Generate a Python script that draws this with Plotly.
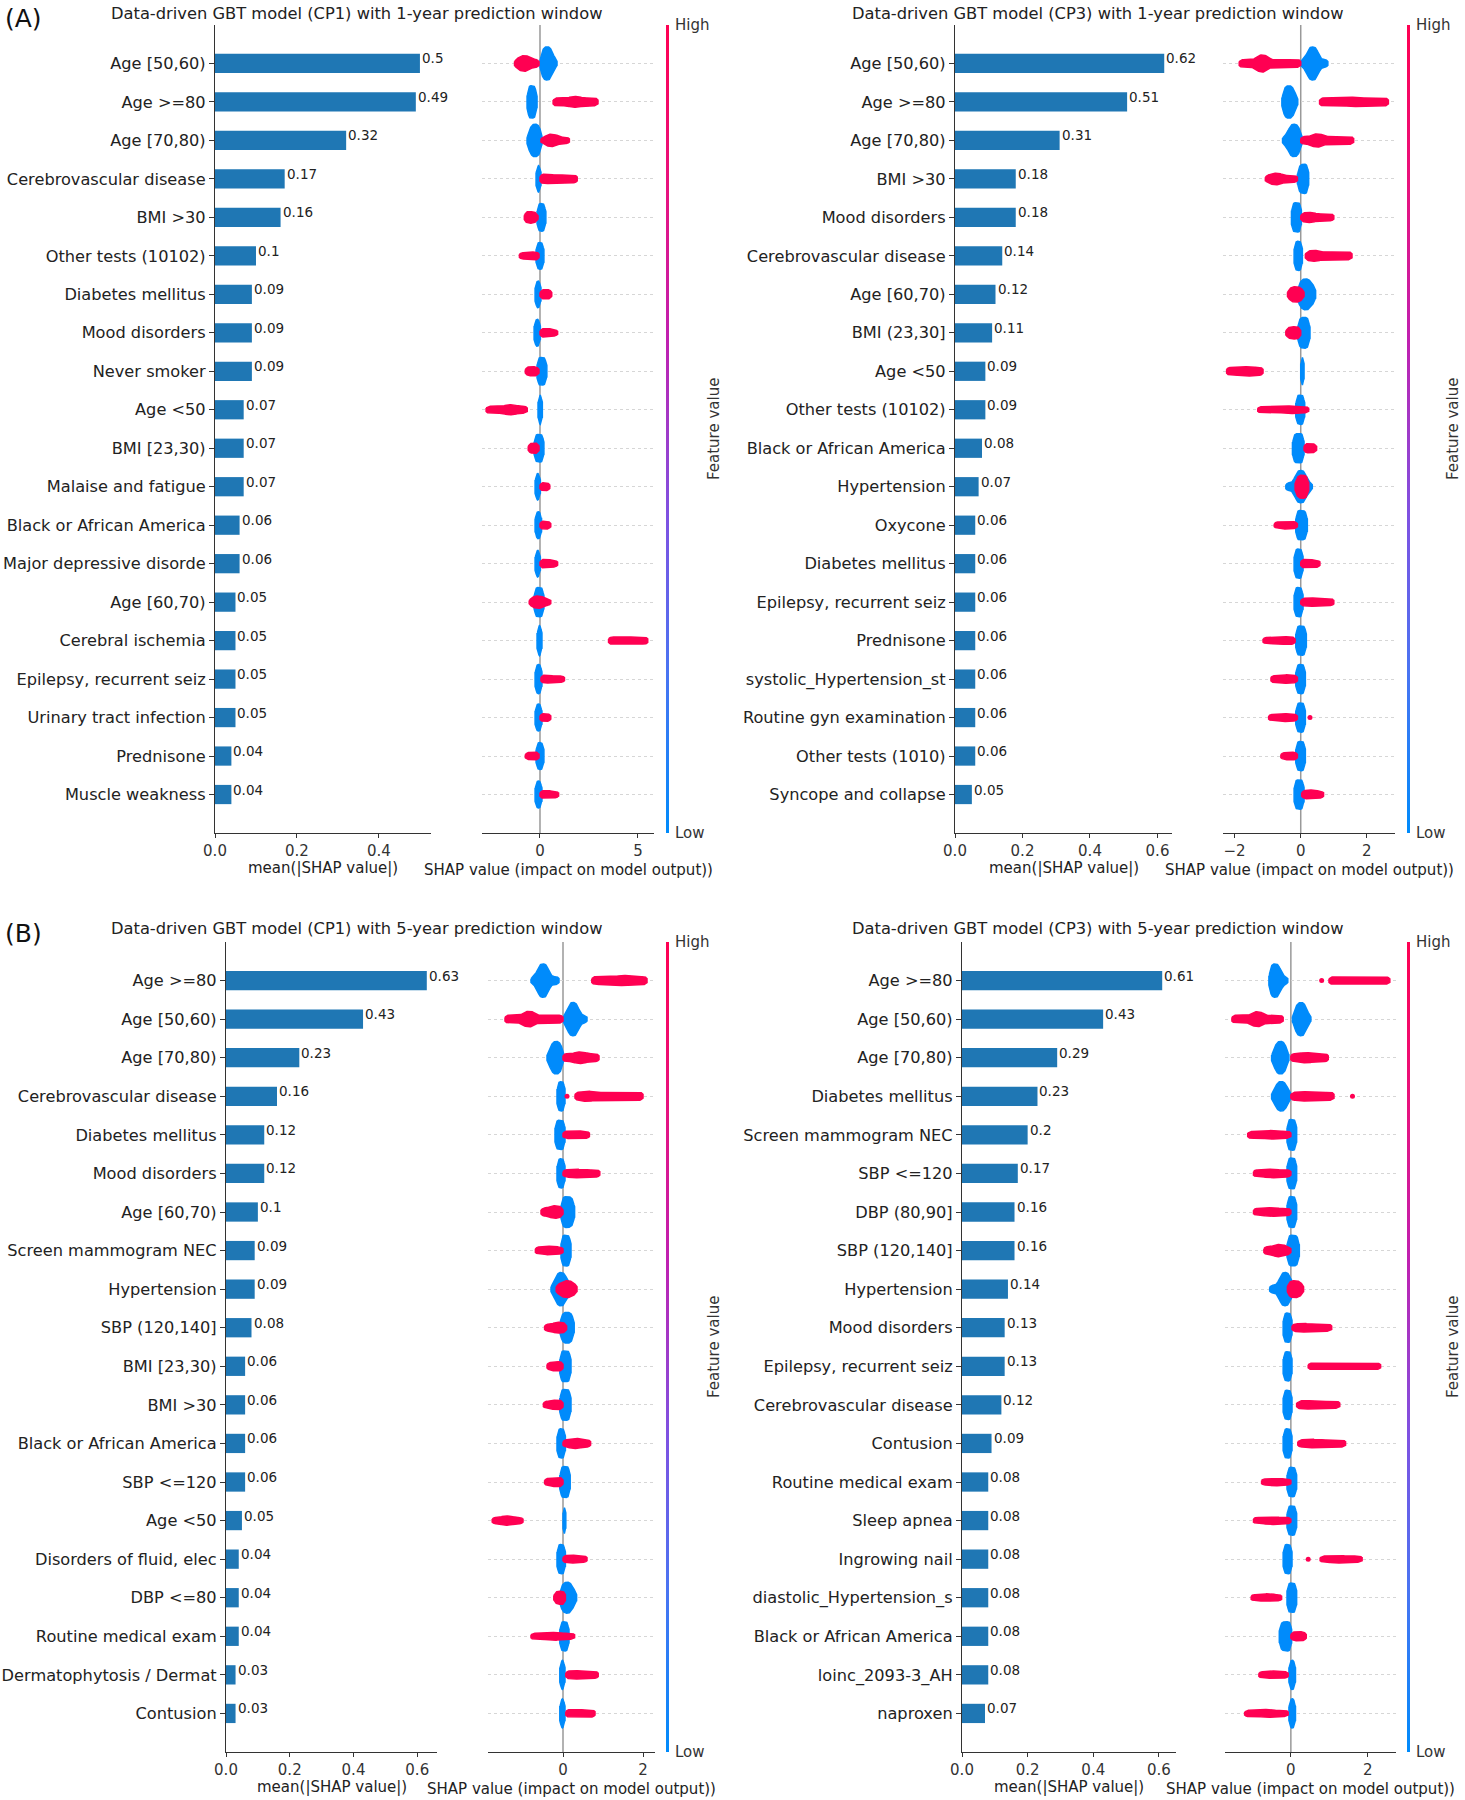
import numpy as np
import plotly.graph_objects as go

W, H = 1465, 1800

# ---------------------------------------------------------------- data
TITLES = [
    "Data-driven GBT model (CP1) with 1-year prediction window",
    "Data-driven GBT model (CP3) with 1-year prediction window",
    "Data-driven GBT model (CP1) with 5-year prediction window",
    "Data-driven GBT model (CP3) with 5-year prediction window",
]

FEATURES_A1 = ["Age [50,60)", "Age >=80", "Age [70,80)", "Cerebrovascular disease", "BMI >30",
               "Other tests (10102)", "Diabetes mellitus", "Mood disorders", "Never smoker", "Age <50",
               "BMI [23,30)", "Malaise and fatigue", "Black or African America", "Major depressive disorde",
               "Age [60,70)", "Cerebral ischemia", "Epilepsy, recurrent seiz", "Urinary tract infection",
               "Prednisone", "Muscle weakness"]
MEAN_A1 = [0.5, 0.49, 0.32, 0.17, 0.16, 0.1, 0.09, 0.09, 0.09, 0.07,
           0.07, 0.07, 0.06, 0.06, 0.05, 0.05, 0.05, 0.05, 0.04, 0.04]
# SHAP clusters: (start, densest, end, half-height at densest, half-height elsewhere)
BLUE_A1 = [(0.0, 0.36, 0.87, 0.43, 0.1), (-0.66, -0.42, -0.15, 0.42, 0.12), (-0.66, -0.25, 0.1, 0.42, 0.12),
           (-0.2, -0.08, 0.05, 0.35, 0.35), (-0.15, 0.05, 0.3, 0.36, 0.2), (-0.2, 0.0, 0.2, 0.35, 0.3),
           (-0.25, -0.1, 0.05, 0.35, 0.35), (-0.3, -0.1, 0.02, 0.35, 0.35), (-0.15, 0.05, 0.35, 0.36, 0.25),
           (-0.1, 0.02, 0.12, 0.4, 0.4), (-0.3, -0.05, 0.2, 0.36, 0.25), (-0.25, -0.1, 0.02, 0.35, 0.35),
           (-0.25, -0.05, 0.08, 0.35, 0.35), (-0.25, -0.1, 0.02, 0.35, 0.35), (-0.3, -0.05, 0.2, 0.38, 0.3),
           (-0.15, -0.02, 0.1, 0.4, 0.4), (-0.25, -0.05, 0.1, 0.38, 0.38), (-0.25, -0.05, 0.1, 0.35, 0.35),
           (-0.2, 0.0, 0.2, 0.35, 0.3), (-0.25, -0.05, 0.1, 0.35, 0.35)]
RED_A1 = [(-1.3, -0.8, -0.05, 0.2, 0.1), (0.67, 1.8, 2.96, 0.14, 0.1), (0.05, 0.6, 1.5, 0.16, 0.08),
          (0.0, 0.3, 1.9, 0.12, 0.1), (-0.8, -0.5, -0.1, 0.15, 0.08), (-1.05, -0.3, -0.05, 0.1, 0.08),
          (0.0, 0.3, 0.6, 0.12, 0.08), (0.0, 0.3, 0.9, 0.11, 0.08), (-0.75, -0.4, -0.05, 0.12, 0.08),
          (-2.75, -1.5, -0.65, 0.13, 0.09), (-0.6, -0.3, -0.05, 0.13, 0.08), (0.0, 0.2, 0.5, 0.1, 0.08),
          (0.0, 0.2, 0.55, 0.1, 0.08), (0.0, 0.3, 0.9, 0.11, 0.08), (-0.55, -0.1, 0.55, 0.16, 0.08),
          (3.5, 4.2, 5.5, 0.1, 0.09), (0.05, 0.3, 1.25, 0.1, 0.08), (0.0, 0.2, 0.55, 0.1, 0.08),
          (-0.75, -0.3, -0.05, 0.1, 0.08), (0.0, 0.3, 0.95, 0.1, 0.08)]
DOTS_A1 = []

FEATURES_A2 = ["Age [50,60)", "Age >=80", "Age [70,80)", "BMI >30", "Mood disorders",
               "Cerebrovascular disease", "Age [60,70)", "BMI (23,30]", "Age <50", "Other tests (10102)",
               "Black or African America", "Hypertension", "Oxycone", "Diabetes mellitus",
               "Epilepsy, recurrent seiz", "Prednisone", "systolic_Hypertension_st", "Routine gyn examination",
               "Other tests (1010)", "Syncope and collapse"]
MEAN_A2 = [0.62, 0.51, 0.31, 0.18, 0.18, 0.14, 0.12, 0.11, 0.09, 0.09,
           0.08, 0.07, 0.06, 0.06, 0.06, 0.06, 0.06, 0.06, 0.06, 0.05]
BLUE_A2 = [(0.0, 0.36, 0.82, 0.43, 0.1), (-0.57, -0.36, -0.09, 0.42, 0.12), (-0.55, -0.2, 0.05, 0.42, 0.12),
           (-0.1, 0.1, 0.24, 0.38, 0.2), (-0.28, -0.1, 0.02, 0.38, 0.35), (-0.2, -0.05, 0.05, 0.38, 0.38),
           (-0.1, 0.15, 0.45, 0.4, 0.2), (-0.1, 0.1, 0.28, 0.4, 0.2), (0.0, 0.05, 0.1, 0.4, 0.4),
           (-0.15, 0.0, 0.12, 0.38, 0.35), (-0.25, -0.05, 0.1, 0.38, 0.3), (-0.45, 0.0, 0.35, 0.42, 0.1),
           (-0.15, 0.0, 0.2, 0.38, 0.3), (-0.2, -0.05, 0.07, 0.38, 0.35), (-0.2, -0.05, 0.07, 0.38, 0.38),
           (-0.15, 0.0, 0.17, 0.38, 0.3), (-0.15, 0.0, 0.14, 0.38, 0.3), (-0.15, 0.0, 0.14, 0.38, 0.3),
           (-0.15, 0.0, 0.14, 0.38, 0.3), (-0.2, -0.03, 0.1, 0.38, 0.35)]
RED_A2 = [(-1.86, -1.17, 0.0, 0.22, 0.1), (0.57, 1.6, 2.65, 0.12, 0.1), (0.0, 0.5, 1.6, 0.17, 0.1),
          (-1.07, -0.75, -0.1, 0.15, 0.09), (0.0, 0.25, 1.0, 0.13, 0.09), (0.14, 0.4, 1.55, 0.14, 0.1),
          (-0.4, -0.15, 0.1, 0.2, 0.1), (-0.45, -0.2, 0.0, 0.16, 0.1), (-2.24, -1.6, -1.14, 0.12, 0.1),
          (-1.3, -0.3, 0.24, 0.1, 0.08), (0.1, 0.25, 0.48, 0.12, 0.09), (-0.17, 0.05, 0.24, 0.3, 0.15),
          (-0.8, -0.4, -0.1, 0.1, 0.08), (0.0, 0.2, 0.58, 0.11, 0.09), (0.0, 0.3, 1.0, 0.11, 0.09),
          (-1.14, -0.4, -0.17, 0.1, 0.08), (-0.9, -0.4, -0.1, 0.11, 0.09), (-0.97, -0.4, -0.1, 0.1, 0.08),
          (-0.6, -0.3, -0.1, 0.1, 0.08), (0.03, 0.3, 0.69, 0.12, 0.09)]
DOTS_A2 = [(17, 0.28)]

FEATURES_B1 = ["Age >=80", "Age [50,60)", "Age [70,80)", "Cerebrovascular disease", "Diabetes mellitus",
               "Mood disorders", "Age [60,70)", "Screen mammogram NEC", "Hypertension", "SBP (120,140]",
               "BMI [23,30)", "BMI >30", "Black or African America", "SBP <=120", "Age <50",
               "Disorders of fluid, elec", "DBP <=80", "Routine medical exam", "Dermatophytosis / Dermat",
               "Contusion"]
MEAN_B1 = [0.63, 0.43, 0.23, 0.16, 0.12, 0.12, 0.1, 0.09, 0.09, 0.08,
           0.06, 0.06, 0.06, 0.06, 0.05, 0.04, 0.04, 0.04, 0.03, 0.03]
BLUE_B1 = [(-0.8, -0.5, -0.1, 0.43, 0.1), (0.0, 0.25, 0.6, 0.43, 0.1), (-0.4, -0.17, 0.02, 0.42, 0.12),
           (-0.15, -0.03, 0.05, 0.38, 0.38), (-0.2, -0.05, 0.05, 0.38, 0.35), (-0.15, -0.03, 0.05, 0.38, 0.38),
           (-0.05, 0.1, 0.29, 0.4, 0.25), (-0.05, 0.05, 0.2, 0.4, 0.3), (-0.3, -0.05, 0.26, 0.43, 0.12),
           (-0.08, 0.1, 0.28, 0.4, 0.2), (-0.08, 0.05, 0.2, 0.4, 0.3), (-0.08, 0.05, 0.2, 0.4, 0.3),
           (-0.15, -0.02, 0.06, 0.38, 0.35), (-0.08, 0.05, 0.18, 0.4, 0.3), (0.0, 0.03, 0.07, 0.4, 0.4),
           (-0.15, -0.02, 0.06, 0.38, 0.38), (-0.09, 0.1, 0.34, 0.4, 0.15), (-0.08, 0.03, 0.15, 0.38, 0.3),
           (-0.08, 0.0, 0.05, 0.38, 0.38), (-0.08, 0.0, 0.05, 0.38, 0.38)]
RED_B1 = [(0.72, 1.5, 2.1, 0.13, 0.1), (-1.45, -0.85, 0.0, 0.2, 0.1), (0.0, 0.43, 0.9, 0.15, 0.1),
          (0.3, 0.6, 2.0, 0.13, 0.1), (0.0, 0.3, 0.66, 0.11, 0.09), (0.0, 0.3, 0.92, 0.11, 0.09),
          (-0.55, -0.2, 0.0, 0.16, 0.1), (-0.69, -0.3, 0.0, 0.11, 0.09), (-0.17, 0.1, 0.35, 0.22, 0.12),
          (-0.46, -0.1, 0.09, 0.14, 0.09), (-0.4, -0.15, 0.0, 0.12, 0.09), (-0.49, -0.15, 0.0, 0.12, 0.09),
          (0.0, 0.3, 0.69, 0.13, 0.09), (-0.46, -0.15, 0.0, 0.12, 0.09), (-1.77, -1.4, -1.0, 0.12, 0.08),
          (0.0, 0.2, 0.6, 0.1, 0.08), (-0.23, -0.05, 0.06, 0.17, 0.1), (-0.8, -0.2, 0.29, 0.1, 0.08),
          (0.07, 0.3, 0.88, 0.11, 0.09), (0.07, 0.3, 0.8, 0.1, 0.09)]
DOTS_B1 = [(3, 0.1)]

FEATURES_B2 = ["Age >=80", "Age [50,60)", "Age [70,80)", "Diabetes mellitus", "Screen mammogram NEC",
               "SBP <=120", "DBP (80,90]", "SBP (120,140]", "Hypertension", "Mood disorders",
               "Epilepsy, recurrent seiz", "Cerebrovascular disease", "Contusion", "Routine medical exam",
               "Sleep apnea", "Ingrowing nail", "diastolic_Hypertension_s", "Black or African America",
               "loinc_2093-3_AH", "naproxen"]
MEAN_B2 = [0.61, 0.43, 0.29, 0.23, 0.2, 0.17, 0.16, 0.16, 0.14, 0.13,
           0.13, 0.12, 0.09, 0.08, 0.08, 0.08, 0.08, 0.08, 0.08, 0.07]
BLUE_B2 = [(-0.57, -0.41, -0.08, 0.43, 0.1), (0.04, 0.26, 0.52, 0.43, 0.1), (-0.5, -0.27, -0.05, 0.42, 0.12),
           (-0.5, -0.25, 0.0, 0.38, 0.12), (-0.1, 0.03, 0.15, 0.4, 0.35), (-0.1, 0.03, 0.15, 0.4, 0.35),
           (-0.1, 0.03, 0.15, 0.4, 0.35), (-0.1, 0.05, 0.22, 0.4, 0.25), (-0.55, -0.15, 0.15, 0.43, 0.1),
           (-0.2, -0.05, 0.03, 0.38, 0.38), (-0.2, -0.05, 0.03, 0.38, 0.38), (-0.2, -0.05, 0.03, 0.38, 0.38),
           (-0.2, -0.05, 0.03, 0.38, 0.38), (-0.1, 0.03, 0.15, 0.38, 0.35), (-0.1, 0.03, 0.15, 0.38, 0.35),
           (-0.2, -0.05, 0.03, 0.38, 0.38), (-0.1, 0.03, 0.15, 0.38, 0.35), (-0.3, -0.1, 0.02, 0.38, 0.3),
           (-0.05, 0.03, 0.12, 0.38, 0.35), (-0.05, 0.03, 0.12, 0.38, 0.35)]
RED_B2 = [(0.99, 1.8, 2.57, 0.1, 0.09), (-1.53, -0.87, -0.2, 0.19, 0.1), (0.0, 0.4, 0.97, 0.13, 0.1),
          (0.0, 0.3, 1.12, 0.12, 0.1), (-1.12, -0.5, 0.0, 0.11, 0.09), (-0.97, -0.5, 0.0, 0.11, 0.09),
          (-0.97, -0.5, 0.0, 0.11, 0.09), (-0.7, -0.3, 0.0, 0.16, 0.1), (-0.09, 0.1, 0.33, 0.22, 0.12),
          (0.03, 0.3, 1.06, 0.11, 0.09), (0.45, 1.3, 2.33, 0.09, 0.08), (0.15, 0.4, 1.27, 0.11, 0.09),
          (0.18, 0.5, 1.42, 0.11, 0.09), (-0.76, -0.4, 0.0, 0.1, 0.08), (-0.97, -0.5, 0.0, 0.1, 0.08),
          (0.76, 1.2, 1.85, 0.1, 0.08), (-1.03, -0.6, -0.24, 0.1, 0.08), (0.0, 0.2, 0.4, 0.12, 0.09),
          (-0.83, -0.4, -0.07, 0.1, 0.08), (-1.2, -0.6, -0.07, 0.1, 0.08)]
DOTS_B2 = [(0, 0.8), (3, 1.6), (15, 0.45)]

# ---------------------------------------------------------------- style / layout
BAR_BLUE = "#1f77b4"
PT_BLUE = "#008bfb"
PT_RED = "#ff0052"
CSCALE = [[0, "#008bfb"], [0.2, "#4a74f2"], [0.39, "#7e52e2"], [0.5, "#a03ac8"],
          [0.61, "#c020b0"], [0.8, "#e8127e"], [1, "#ff0052"]]
FONT = "DejaVu Sans"
AX = "#333333"

PANELS = [
    dict(feats=FEATURES_A1, vals=MEAN_A1, blue=BLUE_A1, red=RED_A1, dots=DOTS_A1,
         bar_px=(215, 431), bar_max=0.527, bar_ticks=[0, 0.2, 0.4],
         sw_px=(482, 654), sw_range=(-2.96, 5.82), sw_ticks=[0, 5],
         y_px=(25, 833), cb_x=666, fv_x=714, title_x=356, title_y=13),
    dict(feats=FEATURES_A2, vals=MEAN_A2, blue=BLUE_A2, red=RED_A2, dots=DOTS_A2,
         bar_px=(955, 1172), bar_max=0.643, bar_ticks=[0, 0.2, 0.4, 0.6],
         sw_px=(1223, 1395), sw_range=(-2.35, 2.85), sw_ticks=[-2, 0, 2],
         y_px=(25, 833), cb_x=1407, fv_x=1453, title_x=1097, title_y=13),
    dict(feats=FEATURES_B1, vals=MEAN_B1, blue=BLUE_B1, red=RED_B1, dots=DOTS_B1,
         bar_px=(226, 437), bar_max=0.662, bar_ticks=[0, 0.2, 0.4, 0.6],
         sw_px=(488, 655), sw_range=(-1.875, 2.3), sw_ticks=[0, 2],
         y_px=(942, 1752), cb_x=666, fv_x=714, title_x=356, title_y=928),
    dict(feats=FEATURES_B2, vals=MEAN_B2, blue=BLUE_B2, red=RED_B2, dots=DOTS_B2,
         bar_px=(962, 1176), bar_max=0.652, bar_ticks=[0, 0.2, 0.4, 0.6],
         sw_px=(1225, 1396), sw_range=(-1.71, 2.73), sw_ticks=[0, 2],
         y_px=(942, 1752), cb_x=1407, fv_x=1453, title_x=1097, title_y=928),
]


def fx(px):
    return px / W


def fy(px):
    return 1 - px / H


def cluster_outline(c, row, ppu):
    x0, xp, x1, hp, e = c
    w = 6.5 / ppu
    xs = np.unique(np.concatenate([np.linspace(x0, x1, 80), [xp]]))
    h = e + (hp - e) * np.exp(-np.abs((xs - xp) / w) ** 3)
    d = np.minimum(xs - x0, x1 - xs) * ppu
    t = np.clip(d / 3.0, 0, 1)
    h = h * np.sqrt(np.clip(1 - (1 - t) ** 2, 0.25, 1))
    X = list(xs) + list(xs[::-1]) + [xs[0], None]
    Y = list(row + h) + list((row - h)[::-1]) + [row + h[0], None]
    return X, Y


fig = go.Figure()
annotations = []
shapes = []
layout_axes = {}

for k, p in enumerate(PANELS):
    bi, si = 2 * k + 1, 2 * k + 2
    bx = "x" if bi == 1 else f"x{bi}"
    by = "y" if bi == 1 else f"y{bi}"
    sx, sy = f"x{si}", f"y{si}"
    n = len(p["feats"])
    rows = [n - 1 - i for i in range(n)]
    y0p, y1p = p["y_px"]

    # bars
    fig.add_trace(go.Bar(x=p["vals"], y=rows, orientation="h", width=0.5,
                         marker=dict(color=BAR_BLUE, line=dict(width=0)),
                         xaxis=bx, yaxis=by, hoverinfo="skip"))
    for v, r in zip(p["vals"], rows):
        annotations.append(dict(x=v, y=r, xref=bx, yref=by, text=f"{v:g}", showarrow=False,
                                xanchor="left", yanchor="middle", xshift=0, yshift=5,
                                font=dict(family=FONT, size=13.5, color="#222")))

    # swarm outlines
    ppu = (p["sw_px"][1] - p["sw_px"][0]) / (p["sw_range"][1] - p["sw_range"][0])
    for clusters, col in ((p["blue"], PT_BLUE), (p["red"], PT_RED)):
        X, Y = [], []
        for c, r in zip(clusters, rows):
            xx, yy = cluster_outline(c, r, ppu)
            X += xx
            Y += yy
        fig.add_trace(go.Scatter(x=X, y=Y, mode="lines", fill="toself", fillcolor=col,
                                 line=dict(color=col, width=1.5), xaxis=sx, yaxis=sy,
                                 hoverinfo="skip"))
    if p["dots"]:
        fig.add_trace(go.Scatter(x=[d[1] for d in p["dots"]], y=[n - 1 - d[0] for d in p["dots"]],
                                 mode="markers", marker=dict(color=PT_RED, size=5),
                                 xaxis=sx, yaxis=sy, hoverinfo="skip"))

    # colorbar carrier
    cb_len = y1p - y0p
    fig.add_trace(go.Scatter(x=[0], y=[-50], mode="markers", xaxis=sx, yaxis=sy, hoverinfo="skip",
                             marker=dict(color=[0.5], cmin=0, cmax=1, colorscale=CSCALE, showscale=True,
                                         size=1,
                                         colorbar=dict(x=fx(p["cb_x"]), xanchor="left",
                                                       y=fy(y0p), yanchor="top",
                                                       len=cb_len, lenmode="pixels",
                                                       thickness=3, thicknessmode="pixels",
                                                       outlinewidth=0, showticklabels=False,
                                                       ticks="", xpad=0, ypad=0))))

    tick_font = dict(family=FONT, size=15, color=AX)
    layout_axes["xaxis" if bi == 1 else f"xaxis{bi}"] = dict(
        domain=[fx(p["bar_px"][0]), fx(p["bar_px"][1])], range=[0, p["bar_max"]], anchor=by,
        showline=True, linecolor=AX, linewidth=1.2, ticks="outside", ticklen=4, tickcolor=AX,
        tickvals=p["bar_ticks"], ticktext=[f"{t:.1f}" for t in p["bar_ticks"]],
        showgrid=False, zeroline=False, tickfont=tick_font, fixedrange=True, automargin=False)
    layout_axes["yaxis" if bi == 1 else f"yaxis{bi}"] = dict(
        domain=[fy(y1p), fy(y0p)], range=[-1, n], anchor=bx,
        showline=True, linecolor=AX, linewidth=1.2, ticks="outside", ticklen=5, tickcolor=AX,
        tickvals=rows, ticktext=p["feats"], showgrid=False, zeroline=False,
        tickfont=dict(family=FONT, size=16.2, color="#222"), fixedrange=True, automargin=False)
    layout_axes[f"xaxis{si}"] = dict(
        domain=[fx(p["sw_px"][0]), fx(p["sw_px"][1])], range=list(p["sw_range"]), anchor=sy,
        showline=True, linecolor=AX, linewidth=1.2, ticks="outside", ticklen=4, tickcolor=AX,
        tickvals=p["sw_ticks"], ticktext=[str(t).replace("-", "\u2212") for t in p["sw_ticks"]],
        showgrid=False, zeroline=False, tickfont=tick_font, fixedrange=True, automargin=False)
    layout_axes[f"yaxis{si}"] = dict(
        domain=[fy(y1p), fy(y0p)], range=[-1, n], anchor=sx,
        showline=False, ticks="", showticklabels=False, tickvals=rows,
        showgrid=True, gridcolor="#d6d6d6", gridwidth=1, griddash="dot", zeroline=False,
        fixedrange=True, automargin=False)

    shapes.append(dict(type="line", xref=sx, yref=f"{sy} domain", x0=0, x1=0, y0=0, y1=1,
                       line=dict(color="#999999", width=1.5), layer="below"))

    # texts
    annotations.append(dict(x=fx(p["title_x"]), y=fy(p["title_y"]), xref="paper", yref="paper",
                            text=TITLES[k], showarrow=False, xanchor="center", yanchor="middle",
                            font=dict(family=FONT, size=16.3, color="#222")))
    annotations.append(dict(x=fx((p["bar_px"][0] + p["bar_px"][1]) / 2), y=fy(y1p + 35),
                            xref="paper", yref="paper", text="mean(|SHAP value|)", showarrow=False,
                            xanchor="center", yanchor="middle",
                            font=dict(family=FONT, size=15, color="#222")))
    annotations.append(dict(x=fx((p["sw_px"][0] + p["sw_px"][1]) / 2), y=fy(y1p + 37),
                            xref="paper", yref="paper", text="SHAP value (impact on model output))",
                            showarrow=False, xanchor="center", yanchor="middle",
                            font=dict(family=FONT, size=15, color="#222")))
    annotations.append(dict(x=fx(p["cb_x"] + 7), y=fy(y0p), xref="paper", yref="paper", text="High",
                            showarrow=False, xanchor="left", yanchor="middle",
                            font=dict(family=FONT, size=15, color=AX)))
    annotations.append(dict(x=fx(p["cb_x"] + 7), y=fy(y1p), xref="paper", yref="paper", text="Low",
                            showarrow=False, xanchor="left", yanchor="middle",
                            font=dict(family=FONT, size=15, color=AX)))
    annotations.append(dict(x=fx(p["fv_x"]), y=fy((y0p + y1p) / 2), xref="paper", yref="paper",
                            text="Feature value", showarrow=False, textangle=-90,
                            xanchor="center", yanchor="middle",
                            font=dict(family=FONT, size=15, color=AX)))

annotations.append(dict(x=fx(3), y=fy(18), xref="paper", yref="paper", text="(A)", showarrow=False,
                        xanchor="left", yanchor="middle", font=dict(family=FONT, size=25, color="#111")))
annotations.append(dict(x=fx(3), y=fy(933), xref="paper", yref="paper", text="(B)", showarrow=False,
                        xanchor="left", yanchor="middle", font=dict(family=FONT, size=25, color="#111")))

fig.update_layout(width=W, height=H, autosize=False,
                  margin=dict(l=0, r=0, t=0, b=0, pad=0, autoexpand=False),
                  paper_bgcolor="white", plot_bgcolor="white", showlegend=False,
                  annotations=annotations, shapes=shapes, **layout_axes)

fig.write_html("out.html", config={"displayModeBar": False},
               post_script="document.body.style.margin='0';document.body.style.padding='0';")
